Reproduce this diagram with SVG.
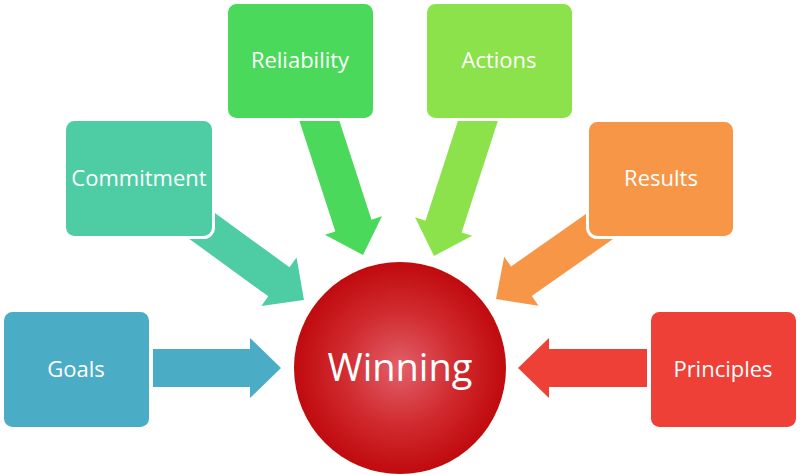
<svg xmlns="http://www.w3.org/2000/svg" width="800" height="475" viewBox="0 0 800 475">
<style>
.box{stroke:#fff;stroke-width:3}
.lbl{font-family:"Open Sans","Liberation Sans",sans-serif;font-size:22px;fill:#fff;text-anchor:middle}
.big{font-family:"Open Sans","Liberation Sans",sans-serif;font-size:38px;fill:#fff;text-anchor:middle}
</style>
<defs>
<radialGradient id="ball" cx="0.5" cy="0.5" r="0.5">
<stop offset="0" stop-color="#E2606A"/>
<stop offset="0.55" stop-color="#D02A2E"/>
<stop offset="1" stop-color="#C00A0E"/>
</radialGradient>
</defs>
<rect width="800" height="475" fill="#fff"/>
<g id="connectors">
<path fill="#4BACC6" d="M0,0 L-31,-30 L-31,-19 L-128,-19 L-128,19 L-31,19 L-31,30 Z" transform="translate(281,368)"/>
<path fill="#EE4036" d="M0,0 L-31,-30 L-31,-19 L-129,-19 L-129,19 L-31,19 L-31,30 Z" transform="translate(518,368) rotate(180)"/>
<path fill="#4ECDA4" d="M0,0 L-31,-30 L-31,-18 L-135,-18 L-135,18 L-31,18 L-31,30 Z" transform="translate(304,300) rotate(36)"/>
<path fill="#F79646" d="M0,0 L-31,-30 L-31,-18 L-135,-18 L-135,18 L-31,18 L-31,30 Z" transform="translate(496,299) rotate(145)"/>
<path fill="#4AD95A" d="M0,0 L-31,-30 L-31,-19 L-155,-19 L-155,19 L-31,19 L-31,30 Z" transform="translate(363,255) rotate(72)"/>
<path fill="#8BE24A" d="M0,0 L-31,-30 L-31,-19 L-155,-19 L-155,19 L-31,19 L-31,30 Z" transform="translate(434,256) rotate(108)"/>
</g>
<g id="goals">
<rect class="box" x="2.5" y="310.5" width="148" height="118" rx="10" fill="#4BACC6"/>
<text class="lbl" x="76" y="377">Goals</text>
</g>
<g id="commitment">
<rect class="box" x="64.5" y="119.5" width="149" height="118" rx="10" fill="#4ECDA4"/>
<text class="lbl" x="139" y="186">Commitment</text>
</g>
<g id="reliability">
<rect class="box" x="226.5" y="2.5" width="148" height="117" rx="10" fill="#4AD95A"/>
<text class="lbl" x="300" y="68">Reliability</text>
</g>
<g id="actions">
<rect class="box" x="425.5" y="2.5" width="148" height="117" rx="10" fill="#8BE24A"/>
<text class="lbl" x="499" y="68">Actions</text>
</g>
<g id="results">
<rect class="box" x="587.5" y="120.5" width="147" height="117" rx="10" fill="#F79646"/>
<text class="lbl" x="661" y="186">Results</text>
</g>
<g id="principles">
<rect class="box" x="649.5" y="310.5" width="148" height="118" rx="10" fill="#EE4036"/>
<text class="lbl" x="723" y="377">Principles</text>
</g>
<g id="winning">
<circle cx="400" cy="368" r="106" fill="url(#ball)"/>
<text class="big" x="400" y="381">Winning</text>
</g>
</svg>
